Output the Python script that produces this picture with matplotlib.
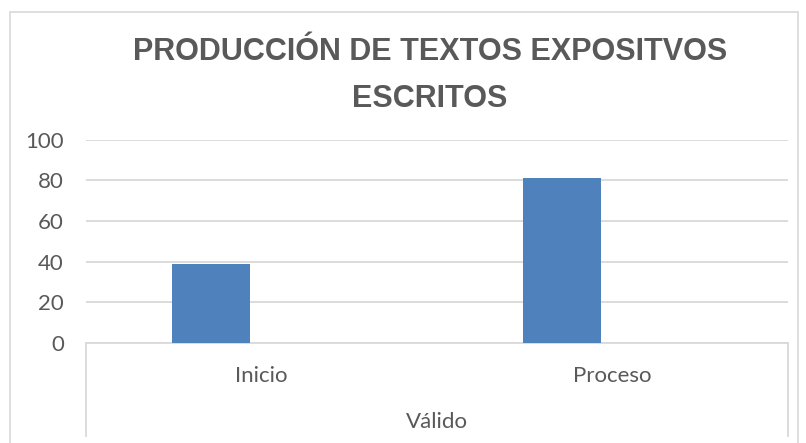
import matplotlib.pyplot as plt
from matplotlib.patches import Rectangle

categories = ['Inicio', 'Proceso']
values = [39, 81]
group_label = 'Válido'
title_lines = ['PRODUCCIÓN DE TEXTOS EXPOSITVOS', 'ESCRITOS']
y_ticks = [0, 20, 40, 60, 80, 100]

W, H = 806, 443
fig = plt.figure(figsize=(W / 100, H / 100), dpi=100)

text_color = '#595959'
grid_color = '#d9d9d9'
bar_color = '#4f81bd'
tick_font = ['Lato', 'DejaVu Sans']

# chart border (Excel chart area)
fig.patches.append(Rectangle((10 / W, -0.05), 788 / W, 1 - 12 / H + 0.05,
                             transform=fig.transFigure, fill=False,
                             edgecolor=grid_color, linewidth=1.2))

left, right = 86, 788
bottom, top = 343, 139.5
ax = fig.add_axes([left / W, 1 - bottom / H, (right - left) / W, (bottom - top) / H])

x = list(range(len(categories)))
offset = -0.144
ax.bar([i + offset for i in x], values, width=0.223, color=bar_color, zorder=3)

ax.set_xlim(-0.5, len(categories) - 0.5)
ax.set_ylim(0, 100)
ax.set_yticks(y_ticks)
ax.set_yticklabels([str(t) for t in y_ticks], family=tick_font, fontsize=16, color=text_color)
ax.tick_params(axis='y', length=0, pad=16)
ax.set_xticks(x)
ax.set_xticklabels(categories, family=tick_font, fontsize=16, color=text_color)
ax.tick_params(axis='x', length=0, pad=16.5)
ax.grid(axis='y', color=grid_color, linewidth=1.3, zorder=0)
for s in ['top', 'right', 'left']:
    ax.spines[s].set_visible(False)
ax.spines['bottom'].set_color(grid_color)
ax.spines['bottom'].set_linewidth(1.3)

# multi-level category axis frame
depth = (436 - bottom) / (bottom - top)
for xa in [0, 1]:
    ax.plot([xa, xa], [0, -depth], transform=ax.transAxes, color=grid_color,
            linewidth=1.3, clip_on=False)
ax.text(0.5, -(422 - bottom) / (bottom - top), group_label, transform=ax.transAxes,
        ha='center', va='center', family=tick_font, fontsize=16, color=text_color)

title_font = ['Liberation Sans Narrow', 'Liberation Sans', 'DejaVu Sans']
for line, yc in zip(title_lines, [52, 99]):
    fig.text(430 / W, 1 - yc / H, line, ha='center', va='center',
             family=title_font, fontsize=22, fontweight='bold', color=text_color)

fig.savefig('out.png', dpi=100, facecolor='white')
